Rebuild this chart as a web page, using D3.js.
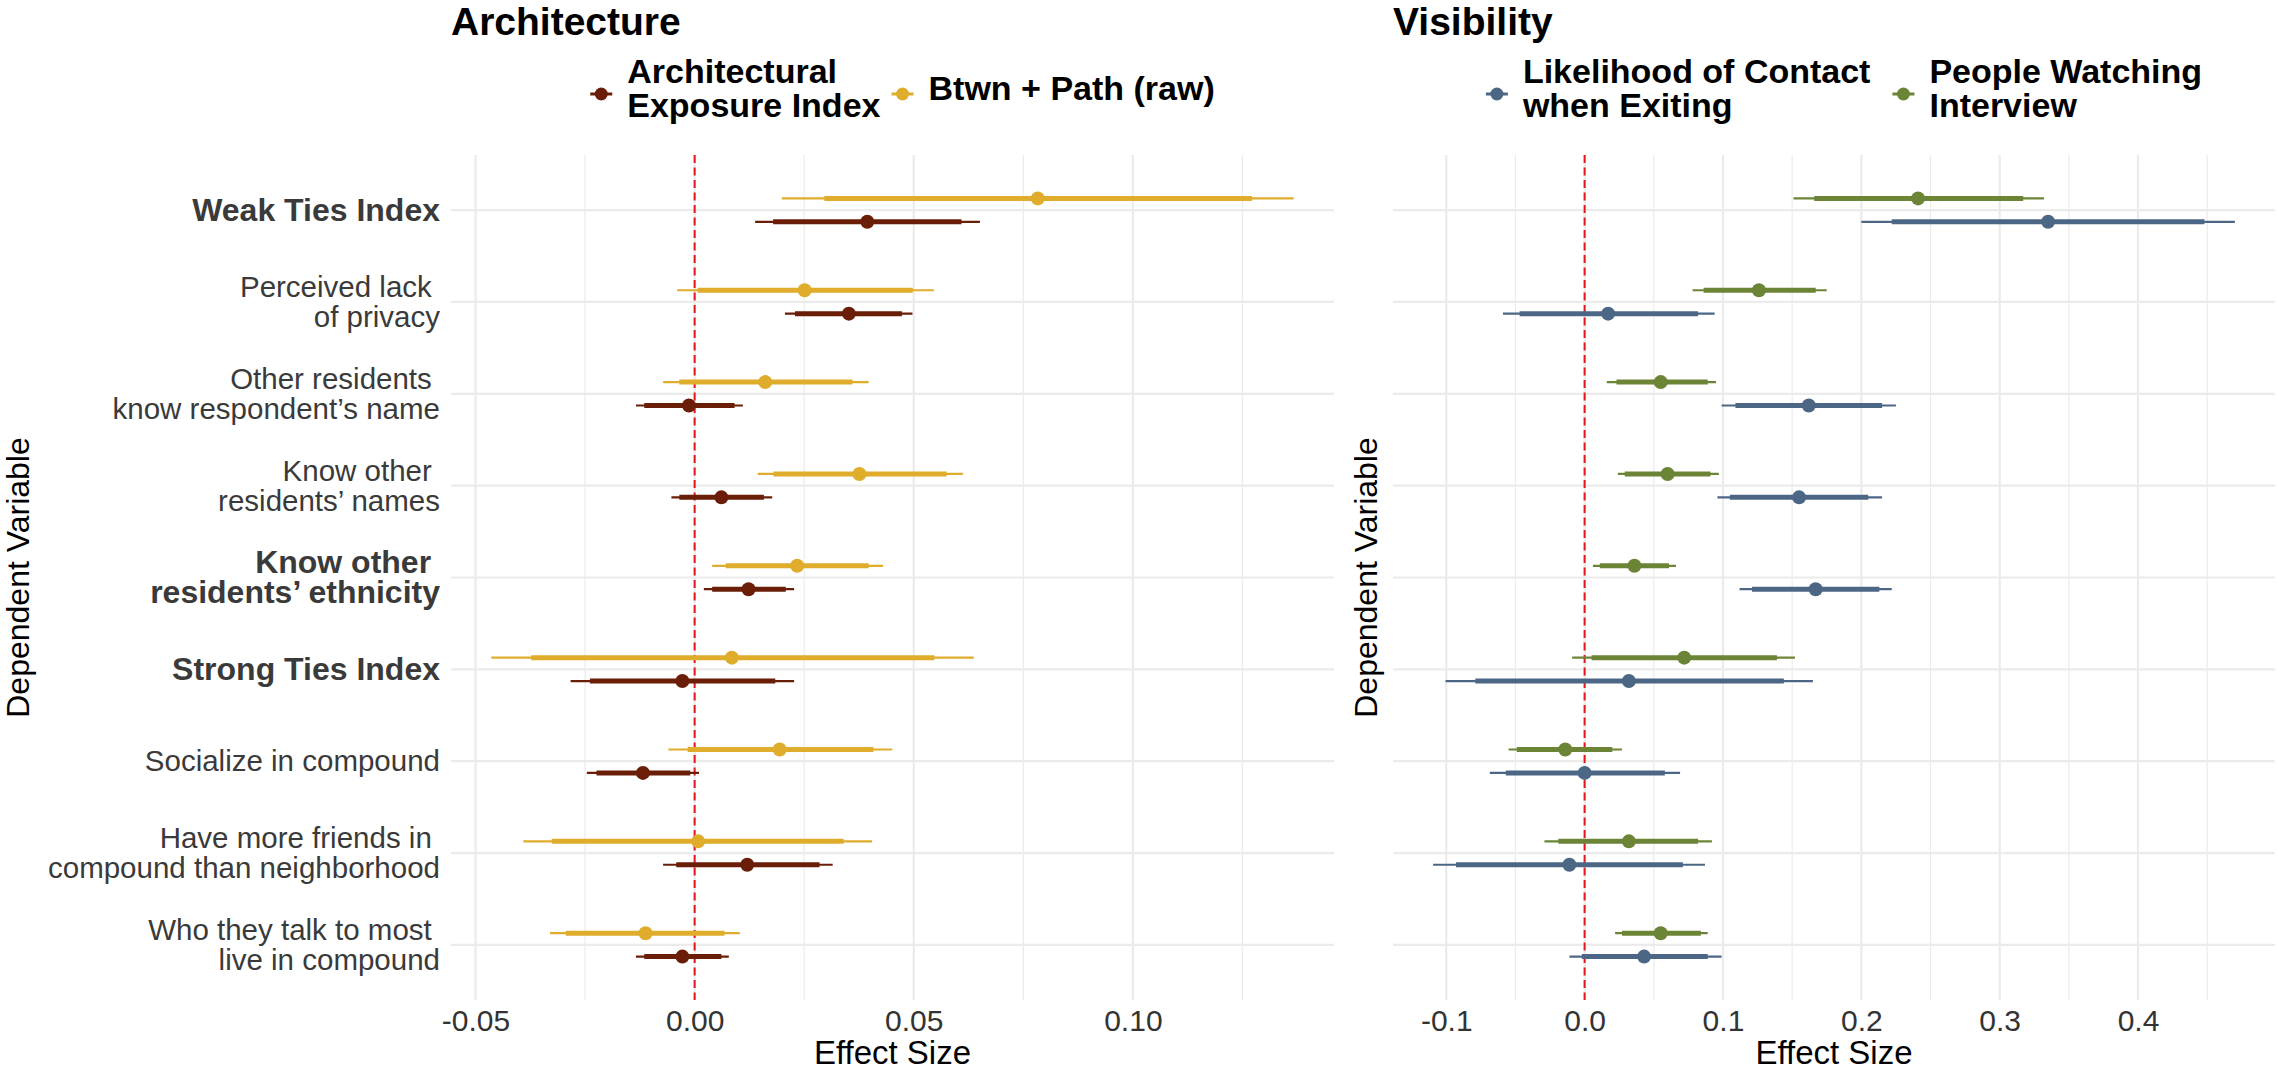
<!DOCTYPE html>
<html>
<head>
<meta charset="utf-8">
<script src="https://cdn.jsdelivr.net/npm/d3@7"></script>
<style>
  body { margin: 0; background: #fff; }
  text { font-family: "Liberation Sans", Arial, Helvetica, sans-serif; white-space: pre; }
</style>
</head>
<body>
<script>
// dependent variables, top to bottom
var categories = ["weak", "privacy", "knowName", "knowNames", "knowEthnicity", "strong", "socialize", "moreFriends", "talkMost"];
var categoryLabels = [
    ["Weak Ties Index"],
    ["Perceived lack ", "of privacy"],
    ["Other residents ", "know respondent\u2019s name"],
    ["Know other ", "residents\u2019 names"],
    ["Know other ", "residents\u2019 ethnicity"],
    ["Strong Ties Index"],
    ["Socialize in compound"],
    ["Have more friends in ", "compound than neighborhood"],
    ["Who they talk to most ", "live in compound"]
];
var boldCategories = ["weak", "knowEthnicity", "strong"];

// each row: [lo95, lo80, estimate, hi80, hi95]
var archExposure = [
    [0.0138, 0.0179, 0.0394, 0.0609, 0.0651],
    [0.0206, 0.0229, 0.0352, 0.0473, 0.0497],
    [-0.0134, -0.0115, -0.0013, 0.0091, 0.0110],
    [-0.0053, -0.0035, 0.0061, 0.0158, 0.0177],
    [0.0021, 0.0040, 0.0123, 0.0208, 0.0227],
    [-0.0283, -0.0239, -0.0028, 0.0184, 0.0227],
    [-0.0246, -0.0224, -0.0118, -0.0010, 0.0010],
    [-0.0072, -0.0042, 0.0120, 0.0285, 0.0315],
    [-0.0134, -0.0115, -0.0028, 0.0061, 0.0078]
];
var btwnPath = [
    [0.0199, 0.0296, 0.0783, 0.1272, 0.1367],
    [-0.0040, 0.0007, 0.0251, 0.0498, 0.0546],
    [-0.0072, -0.0035, 0.0161, 0.0360, 0.0397],
    [0.0144, 0.0180, 0.0376, 0.0575, 0.0612],
    [0.0040, 0.0071, 0.0234, 0.0397, 0.0430],
    [-0.0464, -0.0373, 0.0085, 0.0547, 0.0637],
    [-0.0060, -0.0016, 0.0194, 0.0408, 0.0451],
    [-0.0391, -0.0326, 0.0008, 0.0340, 0.0405],
    [-0.0330, -0.0294, -0.0112, 0.0068, 0.0103]
];
var contactExiting = [
    [0.200, 0.222, 0.335, 0.448, 0.470],
    [-0.059, -0.047, 0.017, 0.082, 0.094],
    [0.099, 0.109, 0.162, 0.215, 0.225],
    [0.096, 0.105, 0.155, 0.205, 0.215],
    [0.112, 0.121, 0.167, 0.213, 0.222],
    [-0.1005, -0.079, 0.032, 0.144, 0.165],
    [-0.0685, -0.057, 0.000, 0.058, 0.069],
    [-0.1095, -0.093, -0.011, 0.071, 0.087],
    [-0.011, -0.002, 0.043, 0.089, 0.099]
];
var peopleWatching = [
    [0.151, 0.166, 0.241, 0.317, 0.332],
    [0.078, 0.086, 0.126, 0.167, 0.175],
    [0.016, 0.023, 0.055, 0.089, 0.095],
    [0.024, 0.029, 0.060, 0.091, 0.097],
    [0.006, 0.011, 0.036, 0.061, 0.066],
    [-0.009, 0.005, 0.072, 0.139, 0.152],
    [-0.055, -0.049, -0.014, 0.020, 0.027],
    [-0.029, -0.019, 0.032, 0.082, 0.092],
    [0.022, 0.027, 0.055, 0.084, 0.089]
];

var archTicks = [-0.05, 0, 0.05, 0.10];
var archMinor = [-0.025, 0.025, 0.075, 0.125];
var visTicks = [-0.1, 0, 0.1, 0.2, 0.3, 0.4];
var visMinor = [-0.05, 0.05, 0.15, 0.25, 0.35, 0.45];

var W = 2277, H = 1071;
// note: "top" is taken by window.top, hence the longer names
var panelTop = 155, panelBottom = 1000;
var grid = "#EBEBEB";

var svg = d3.select("body").append("svg").attr("width", W).attr("height", H);

var y = d3.scalePoint().domain(categories).range([panelTop, panelBottom]).padding(0.6);

function drawPanel(cfg) {
    var x = d3.scaleLinear().domain(cfg.domain).range([cfg.x0, cfg.x1]);
    var g = svg.append("g");

    // grid
    g.selectAll("line.minor").data(cfg.minor).enter().append("line")
        .attr("x1", x).attr("x2", x).attr("y1", panelTop).attr("y2", panelBottom)
        .attr("stroke", grid).attr("stroke-width", 1.2);
    g.selectAll("line.major").data(cfg.ticks).enter().append("line")
        .attr("x1", x).attr("x2", x).attr("y1", panelTop).attr("y2", panelBottom)
        .attr("stroke", grid).attr("stroke-width", 2.2);
    g.selectAll("line.hgrid").data(categories).enter().append("line")
        .attr("x1", cfg.x0).attr("x2", cfg.x1).attr("y1", y).attr("y2", y)
        .attr("stroke", grid).attr("stroke-width", 2.2);

    // zero reference
    g.append("line")
        .attr("x1", x(0)).attr("x2", x(0)).attr("y1", panelTop).attr("y2", panelBottom)
        .attr("stroke", "#E3161B").attr("stroke-width", 2).attr("stroke-dasharray", "8,4.5");

    // x axis (no line, labels only)
    var axis = d3.axisBottom(x).tickValues(cfg.ticks).tickSize(0).tickPadding(0)
        .tickFormat(function(d) { return d3.format(cfg.fmt)(d).replace("\u2212", "-"); });
    var ax = g.append("g").attr("transform", "translate(0,1008)").call(axis);
    ax.select(".domain").remove();
    ax.selectAll("text").attr("font-size", 30).attr("fill", "#333").attr("dy", "0.78em")
        .style("font-family", '"Liberation Sans", Arial, sans-serif');

    g.append("text").attr("x", (cfg.x0 + cfg.x1) / 2).attr("y", 1064)
        .attr("text-anchor", "middle").attr("font-size", 33).attr("fill", "#000")
        .text("Effect Size");

    g.append("text")
        .attr("transform", "translate(" + cfg.yTitleX + "," + ((panelTop + panelBottom) / 2) + ") rotate(-90)")
        .attr("text-anchor", "middle").attr("font-size", 32).attr("fill", "#000")
        .text("Dependent Variable");

    g.append("text").attr("x", cfg.x0).attr("y", 35)
        .attr("font-size", 39).attr("font-weight", "bold").attr("fill", "#000")
        .text(cfg.title);

    // y labels
    if (cfg.showLabels) {
        categories.forEach(function(c, i) {
            var lines = categoryLabels[i];
            var bold = boldCategories.indexOf(c) >= 0;
            var fs = bold ? 32 : 29.5;
            var t = g.append("text").attr("text-anchor", "end")
                .attr("font-size", fs).attr("fill", "#3a3a3a")
                .attr("font-weight", bold ? "bold" : "normal");
            lines.forEach(function(line, j) {
                t.append("tspan").attr("x", cfg.x0 - 11)
                    .attr("y", y(c) + (j - (lines.length - 1) / 2) * 30 + fs * 0.34)
                    .text(line);
            });
        });
    }

    // point ranges
    cfg.series.forEach(function(s) {
        var sg = g.append("g");
        sg.selectAll("line.wide").data(s.data).enter().append("line")
            .attr("x1", function(d) { return x(d[0]); })
            .attr("x2", function(d) { return x(d[4]); })
            .attr("y1", function(d, i) { return y(categories[i]) + s.dy; })
            .attr("y2", function(d, i) { return y(categories[i]) + s.dy; })
            .attr("stroke", s.color).attr("stroke-width", 2.2);
        sg.selectAll("line.narrow").data(s.data).enter().append("line")
            .attr("x1", function(d) { return x(d[1]); })
            .attr("x2", function(d) { return x(d[3]); })
            .attr("y1", function(d, i) { return y(categories[i]) + s.dy; })
            .attr("y2", function(d, i) { return y(categories[i]) + s.dy; })
            .attr("stroke", s.color).attr("stroke-width", 5);
        sg.selectAll("circle").data(s.data).enter().append("circle")
            .attr("cx", function(d) { return x(d[2]); })
            .attr("cy", function(d, i) { return y(categories[i]) + s.dy; })
            .attr("r", 7).attr("fill", s.color);
    });

    // legend, centred over the panel
    var lg = g.append("g");
    var cursor = 0;
    cfg.series.slice().reverse().forEach(function(s) {
        var k = lg.append("g").attr("transform", "translate(" + cursor + ",0)");
        k.append("line").attr("x1", -11).attr("x2", 11).attr("y1", 94).attr("y2", 94)
            .attr("stroke", s.color).attr("stroke-width", 3);
        k.append("circle").attr("cx", 0).attr("cy", 94).attr("r", 6.5).attr("fill", s.color);
        var t = k.append("text").attr("font-size", 34).attr("font-weight", "bold").attr("fill", "#000");
        var base = s.legend.length === 1 ? [100] : [83, 117];
        s.legend.forEach(function(line, j) {
            t.append("tspan").attr("x", 26).attr("y", base[j]).text(line);
        });
        cursor += 26 + t.node().getBBox().width + cfg.legendGap;
    });
    var bb = lg.node().getBBox();
    lg.attr("transform", "translate(" + ((cfg.x0 + cfg.x1) / 2 + 10 - (bb.x + bb.width / 2)) + ",0)");
}

drawPanel({
    title: "Architecture",
    x0: 451, x1: 1334,
    domain: [-0.0556, 0.1459],
    ticks: archTicks, minor: archMinor, fmt: ".2f",
    yTitleX: 29, showLabels: true, legendGap: 22,
    series: [
        { legend: ["Btwn + Path (raw)"], color: "#DFAD2B", data: btwnPath, dy: -11.7 },
        { legend: ["Architectural", "Exposure Index"], color: "#6B1E07", data: archExposure, dy: 11.7 }
    ]
});

drawPanel({
    title: "Visibility",
    x0: 1393, x1: 2275,
    domain: [-0.1385, 0.499],
    ticks: visTicks, minor: visMinor, fmt: ".1f",
    yTitleX: 1377, showLabels: false, legendGap: 32,
    series: [
        { legend: ["People Watching", "Interview"], color: "#6B8436", data: peopleWatching, dy: -11.7 },
        { legend: ["Likelihood of Contact", "when Exiting"], color: "#4C6785", data: contactExiting, dy: 11.7 }
    ]
});
</script>
</body>
</html>
